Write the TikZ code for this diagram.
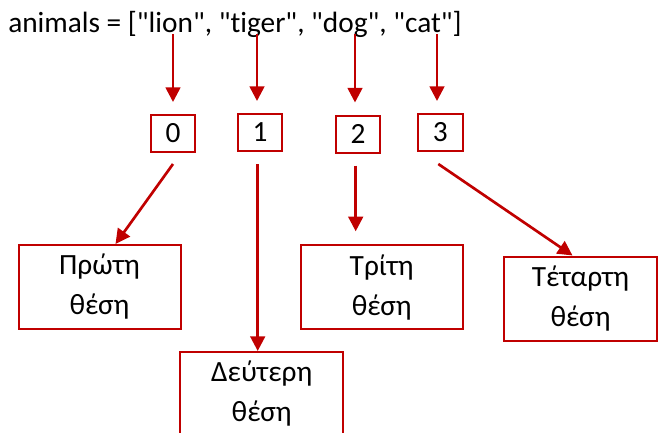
\documentclass[tikz,border=0pt]{standalone}
\usepackage{fontspec}
\setmainfont{Carlito}[Ligatures={TeXOff,CommonOff}]
\usetikzlibrary{arrows.meta,calc}
\definecolor{dred}{HTML}{C00000}
\tikzset{
  idxbox/.style={draw=dred,line width=1.5pt,minimum width={44.6*0.75pt},minimum height={37*0.75pt},inner sep=0pt,font=\fontsize{22}{30}\selectfont},
  posbox/.style={draw=dred,line width=1.5pt,minimum width={162*0.75pt},minimum height={84*0.75pt},inner sep=0pt,align=center,font=\fontsize{22}{30}\selectfont},
  arr/.style={draw=dred,line width=2pt,-{Triangle[length=11pt,width=11pt]}},
}
\begin{document}
\begin{tikzpicture}[x=0.75pt,y=-0.75pt]
\clip (0,0) rectangle (659,432);
\node[anchor=base west,inner sep=0pt,font=\fontsize{22}{26}\selectfont] (title) at (8,32) {animals = ["lion", "tiger", "dog", "cat"]};
\coordinate (t0) at (173,34);
\coordinate (t1) at (257,34);
\coordinate (t2) at (355,34);
\coordinate (t3) at (437,34);
\node[idxbox] (b0) at (173,133.5) {0};
\node[idxbox] (b1) at (260,132.5) {1};
\node[idxbox] (b2) at (358,134) {2};
\node[idxbox] (b3) at (440.3,132.5) {3};
\node[posbox] (p1) at (99.5,287) {Πρώτη\\θέση};
\node[posbox,minimum width={163.3*0.75pt}] (p2) at (261.7,394) {Δεύτερη\\θέση};
\node[posbox] (p3) at (381.7,287.3) {Τρίτη\\θέση};
\node[posbox,minimum width={153*0.75pt}] (p4) at (580.5,298.5) {Τέταρτη\\θέση};
\draw[arr,shorten >=9pt] (t0) -- (t0 |- b0.north);
\draw[arr,shorten >=9pt] (t1) -- (t1 |- b1.north);
\draw[arr,shorten >=9pt] (t2) -- (t2 |- b2.north);
\draw[arr,shorten >=9pt] (t3) -- (t3 |- b3.north);
\coordinate (s0) at ($(b0.south)+(0,11)$);
\coordinate (s1) at ($(b1.south)+(-2.3,12)$);
\coordinate (s2) at ($(b2.south)+(-2.3,12)$);
\coordinate (s3) at ($(b3.south)+(-2,12)$);
\draw[arr] (s0) -- ($(p1.north)+(16,0)$);
\draw[arr] (s1) -- (s1 |- p2.north);
\draw[arr,shorten >=9.75pt] (s2) -- (s2 |- p3.north);
\draw[arr] (s3) -- ($(p4.north)+(-8,0)$);
\end{tikzpicture}
\end{document}
